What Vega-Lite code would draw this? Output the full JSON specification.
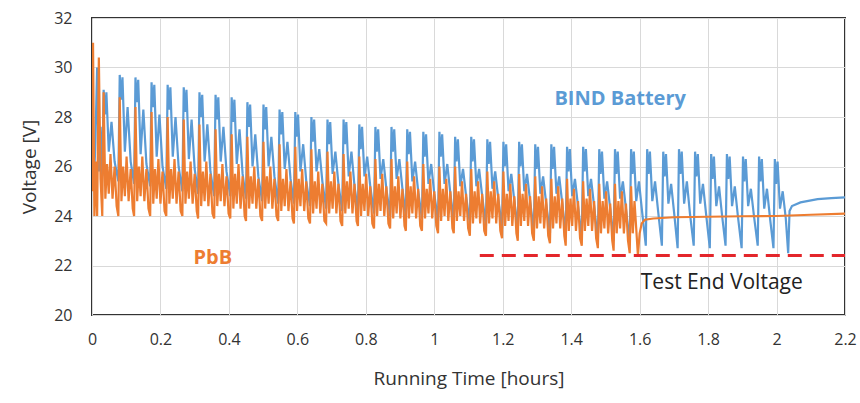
{
"$schema": "https://vega.github.io/schema/vega-lite/v6.json",
"width": 753, "height": 297,
"autosize": "none",
"padding": {"left": 92, "top": 18, "right": 15, "bottom": 88},
"background": "white",
"config": {
 "font": "Open Sans",
 "view": {"stroke": "#333333", "strokeWidth": 2},
 "axis": {"domain": false, "ticks": false, "grid": true, "gridColor": "#d9d9d9", "gridWidth": 1, "labelFontSize": 16, "titleFontSize": 19, "labelColor": "#333333", "titleColor": "#333333", "titleFontWeight": "normal", "labelFont": "Open Sans", "titleFont": "Open Sans"}
},
"datasets": {
"bind": [
{"t":0.006,"v":25.5},{"t":0.010,"v":27.0},{"t":0.015,"v":30.0},{"t":0.020,"v":25.8},{"t":0.025,"v":27.6},
{"t":0.030,"v":25.6},{"t":0.034,"v":29.1},{"t":0.038,"v":28.1},{"t":0.042,"v":29.0},{"t":0.049,"v":26.6},{"t":0.057,"v":27.8},{"t":0.066,"v":26.2},
{"t":0.077,"v":25.4},{"t":0.081,"v":29.7},{"t":0.085,"v":28.7},{"t":0.089,"v":29.6},{"t":0.096,"v":26.6},{"t":0.104,"v":28.4},{"t":0.113,"v":26.2},
{"t":0.123,"v":25.3},{"t":0.127,"v":29.6},{"t":0.131,"v":28.6},{"t":0.135,"v":29.5},{"t":0.142,"v":26.5},{"t":0.150,"v":28.3},{"t":0.159,"v":26.1},
{"t":0.170,"v":25.2},{"t":0.174,"v":29.4},{"t":0.178,"v":28.4},{"t":0.182,"v":29.3},{"t":0.189,"v":26.4},{"t":0.197,"v":28.1},{"t":0.206,"v":26.0},
{"t":0.217,"v":25.1},{"t":0.221,"v":29.3},{"t":0.225,"v":28.3},{"t":0.229,"v":29.2},{"t":0.236,"v":26.4},{"t":0.244,"v":28.0},{"t":0.253,"v":26.0},
{"t":0.264,"v":25.0},{"t":0.268,"v":29.2},{"t":0.272,"v":28.2},{"t":0.276,"v":29.1},{"t":0.283,"v":26.3},{"t":0.291,"v":27.9},{"t":0.300,"v":25.9},
{"t":0.310,"v":24.9},{"t":0.314,"v":29.0},{"t":0.318,"v":28.0},{"t":0.322,"v":28.9},{"t":0.329,"v":26.2},{"t":0.337,"v":27.7},{"t":0.346,"v":25.8},
{"t":0.357,"v":24.8},{"t":0.361,"v":28.9},{"t":0.365,"v":27.9},{"t":0.369,"v":28.8},{"t":0.376,"v":26.2},{"t":0.384,"v":27.6},{"t":0.393,"v":25.8},
{"t":0.404,"v":24.8},{"t":0.408,"v":28.8},{"t":0.412,"v":27.8},{"t":0.416,"v":28.7},{"t":0.423,"v":26.1},{"t":0.431,"v":27.5},{"t":0.440,"v":25.7},
{"t":0.450,"v":24.7},{"t":0.454,"v":28.6},{"t":0.458,"v":27.6},{"t":0.462,"v":28.5},{"t":0.469,"v":26.0},{"t":0.477,"v":27.3},{"t":0.486,"v":25.6},
{"t":0.497,"v":24.6},{"t":0.501,"v":28.5},{"t":0.505,"v":27.5},{"t":0.509,"v":28.4},{"t":0.516,"v":26.0},{"t":0.524,"v":27.2},{"t":0.533,"v":25.6},
{"t":0.544,"v":24.5},{"t":0.548,"v":28.3},{"t":0.552,"v":27.3},{"t":0.556,"v":28.2},{"t":0.563,"v":25.9},{"t":0.571,"v":27.0},{"t":0.580,"v":25.5},
{"t":0.590,"v":24.5},{"t":0.594,"v":28.2},{"t":0.598,"v":27.2},{"t":0.602,"v":28.1},{"t":0.609,"v":25.8},{"t":0.617,"v":26.9},{"t":0.626,"v":25.4},
{"t":0.637,"v":24.4},{"t":0.641,"v":28.0},{"t":0.645,"v":27.0},{"t":0.649,"v":27.9},{"t":0.656,"v":25.8},{"t":0.664,"v":26.7},{"t":0.673,"v":25.4},
{"t":0.684,"v":24.3},{"t":0.688,"v":27.9},{"t":0.692,"v":26.9},{"t":0.696,"v":27.8},{"t":0.703,"v":25.7},{"t":0.711,"v":26.6},{"t":0.720,"v":25.3},
{"t":0.731,"v":24.2},{"t":0.735,"v":27.9},{"t":0.739,"v":26.9},{"t":0.743,"v":27.8},{"t":0.750,"v":25.6},{"t":0.758,"v":26.6},{"t":0.767,"v":25.2},
{"t":0.777,"v":24.2},{"t":0.781,"v":27.7},{"t":0.785,"v":26.7},{"t":0.789,"v":27.6},{"t":0.796,"v":25.6},{"t":0.804,"v":26.4},{"t":0.813,"v":25.2},
{"t":0.824,"v":24.1},{"t":0.828,"v":27.6},{"t":0.832,"v":26.6},{"t":0.836,"v":27.5},{"t":0.843,"v":25.5},{"t":0.851,"v":26.3},{"t":0.860,"v":25.1},
{"t":0.871,"v":24.0},{"t":0.875,"v":27.6},{"t":0.879,"v":26.6},{"t":0.883,"v":27.5},{"t":0.890,"v":25.5},{"t":0.898,"v":26.3},{"t":0.907,"v":25.1},
{"t":0.917,"v":24.0},{"t":0.921,"v":27.5},{"t":0.925,"v":26.5},{"t":0.929,"v":27.4},{"t":0.936,"v":25.4},{"t":0.944,"v":26.2},{"t":0.953,"v":25.0},
{"t":0.964,"v":23.9},{"t":0.968,"v":27.4},{"t":0.972,"v":26.4},{"t":0.976,"v":27.3},{"t":0.983,"v":25.3},{"t":0.991,"v":26.1},{"t":1.000,"v":24.9},
{"t":1.011,"v":23.8},{"t":1.015,"v":27.4},{"t":1.019,"v":26.4},{"t":1.023,"v":27.3},{"t":1.030,"v":25.3},{"t":1.038,"v":26.1},{"t":1.047,"v":24.9},
{"t":1.057,"v":23.8},{"t":1.061,"v":27.2},{"t":1.065,"v":26.2},{"t":1.069,"v":27.1},{"t":1.076,"v":25.2},{"t":1.084,"v":25.9},{"t":1.093,"v":24.8},
{"t":1.104,"v":23.7},{"t":1.108,"v":27.2},{"t":1.112,"v":26.2},{"t":1.116,"v":27.1},{"t":1.123,"v":25.2},{"t":1.131,"v":25.9},{"t":1.140,"v":24.8},
{"t":1.151,"v":23.6},{"t":1.155,"v":27.1},{"t":1.159,"v":26.1},{"t":1.163,"v":27.0},{"t":1.170,"v":25.1},{"t":1.178,"v":25.8},{"t":1.187,"v":24.7},
{"t":1.198,"v":23.5},{"t":1.202,"v":27.0},{"t":1.206,"v":26.0},{"t":1.210,"v":26.9},{"t":1.217,"v":25.0},{"t":1.225,"v":25.7},{"t":1.234,"v":24.6},
{"t":1.244,"v":23.5},{"t":1.248,"v":27.0},{"t":1.252,"v":26.0},{"t":1.256,"v":26.9},{"t":1.263,"v":25.0},{"t":1.271,"v":25.7},{"t":1.280,"v":24.6},
{"t":1.291,"v":23.4},{"t":1.295,"v":26.9},{"t":1.299,"v":25.9},{"t":1.303,"v":26.8},{"t":1.310,"v":24.9},{"t":1.318,"v":25.6},{"t":1.327,"v":24.5},
{"t":1.338,"v":23.3},{"t":1.342,"v":26.9},{"t":1.346,"v":25.9},{"t":1.350,"v":26.8},{"t":1.357,"v":24.9},{"t":1.365,"v":25.6},{"t":1.374,"v":24.5},
{"t":1.384,"v":23.2},{"t":1.388,"v":26.8},{"t":1.392,"v":25.8},{"t":1.396,"v":26.7},{"t":1.403,"v":24.8},{"t":1.411,"v":25.5},{"t":1.420,"v":24.4},
{"t":1.431,"v":23.1},{"t":1.435,"v":26.8},{"t":1.439,"v":25.8},{"t":1.443,"v":26.7},{"t":1.450,"v":24.8},{"t":1.458,"v":25.5},{"t":1.467,"v":24.4},
{"t":1.478,"v":23.0},{"t":1.482,"v":26.7},{"t":1.486,"v":25.7},{"t":1.490,"v":26.6},{"t":1.497,"v":24.7},{"t":1.505,"v":25.4},{"t":1.514,"v":24.3},
{"t":1.524,"v":23.0},{"t":1.528,"v":26.7},{"t":1.532,"v":25.7},{"t":1.536,"v":26.6},{"t":1.543,"v":24.7},{"t":1.551,"v":25.4},{"t":1.560,"v":24.3},
{"t":1.571,"v":22.9},{"t":1.575,"v":26.7},{"t":1.579,"v":25.7},{"t":1.583,"v":26.6},{"t":1.590,"v":24.6},{"t":1.598,"v":25.4},{"t":1.607,"v":24.2},
{"t":1.618,"v":22.8},{"t":1.622,"v":26.7},{"t":1.626,"v":25.7},{"t":1.630,"v":26.6},{"t":1.637,"v":24.6},{"t":1.645,"v":25.4},{"t":1.654,"v":24.2},
{"t":1.665,"v":22.8},{"t":1.669,"v":26.6},{"t":1.673,"v":25.6},{"t":1.677,"v":26.5},{"t":1.684,"v":24.5},{"t":1.692,"v":25.3},{"t":1.701,"v":24.1},
{"t":1.711,"v":22.7},{"t":1.715,"v":26.7},{"t":1.719,"v":25.7},{"t":1.723,"v":26.6},{"t":1.730,"v":24.5},{"t":1.738,"v":25.4},{"t":1.747,"v":24.1},
{"t":1.758,"v":22.8},{"t":1.762,"v":26.6},{"t":1.766,"v":25.6},{"t":1.770,"v":26.5},{"t":1.777,"v":24.5},{"t":1.785,"v":25.3},{"t":1.794,"v":24.1},
{"t":1.805,"v":22.7},{"t":1.809,"v":26.5},{"t":1.813,"v":25.5},{"t":1.817,"v":26.4},{"t":1.824,"v":24.4},{"t":1.832,"v":25.2},{"t":1.841,"v":24.0},
{"t":1.851,"v":22.8},{"t":1.855,"v":26.5},{"t":1.859,"v":25.5},{"t":1.863,"v":26.4},{"t":1.870,"v":24.4},{"t":1.878,"v":25.2},{"t":1.887,"v":24.0},
{"t":1.898,"v":22.7},{"t":1.902,"v":26.4},{"t":1.906,"v":25.4},{"t":1.910,"v":26.3},{"t":1.917,"v":24.4},{"t":1.925,"v":25.1},{"t":1.934,"v":24.0},
{"t":1.945,"v":22.8},{"t":1.949,"v":26.4},{"t":1.953,"v":25.4},{"t":1.957,"v":26.3},{"t":1.964,"v":24.3},{"t":1.972,"v":25.1},{"t":1.981,"v":23.9},
{"t":1.991,"v":22.7},{"t":1.995,"v":26.3},{"t":1.999,"v":25.3},{"t":2.003,"v":26.2},{"t":2.010,"v":24.3},{"t":2.018,"v":25.0},{"t":2.027,"v":23.9},
{"t":2.034,"v":22.5},{"t":2.038,"v":24.2},{"t":2.045,"v":24.4},{"t":2.07,"v":24.55},{"t":2.12,"v":24.68},{"t":2.16,"v":24.72},{"t":2.2,"v":24.75}
],
"pbb": [
{"t":0.000,"v":25.0},{"t":0.003,"v":31.0},{"t":0.007,"v":24.0},{"t":0.011,"v":26.2},{"t":0.015,"v":24.0},{"t":0.020,"v":30.4},{"t":0.025,"v":25.5},
{"t":0.030,"v":24.0},{"t":0.034,"v":29.0},{"t":0.039,"v":24.7},{"t":0.044,"v":26.1},{"t":0.049,"v":24.9},{"t":0.054,"v":26.5},{"t":0.060,"v":24.7},{"t":0.066,"v":26.0},{"t":0.072,"v":24.4},
{"t":0.077,"v":24.0},{"t":0.081,"v":28.8},{"t":0.086,"v":24.6},{"t":0.091,"v":26.0},{"t":0.096,"v":24.8},{"t":0.101,"v":26.4},{"t":0.107,"v":24.6},{"t":0.113,"v":25.9},{"t":0.119,"v":24.3},
{"t":0.123,"v":24.0},{"t":0.127,"v":28.4},{"t":0.132,"v":24.6},{"t":0.137,"v":26.0},{"t":0.142,"v":24.8},{"t":0.147,"v":26.4},{"t":0.153,"v":24.6},{"t":0.159,"v":25.9},{"t":0.165,"v":24.3},
{"t":0.170,"v":24.0},{"t":0.174,"v":28.2},{"t":0.179,"v":24.5},{"t":0.184,"v":25.9},{"t":0.189,"v":24.7},{"t":0.194,"v":26.3},{"t":0.200,"v":24.5},{"t":0.206,"v":25.8},{"t":0.212,"v":24.2},
{"t":0.217,"v":24.0},{"t":0.221,"v":28.0},{"t":0.226,"v":24.5},{"t":0.231,"v":25.9},{"t":0.236,"v":24.7},{"t":0.241,"v":26.3},{"t":0.247,"v":24.5},{"t":0.253,"v":25.8},{"t":0.259,"v":24.2},
{"t":0.264,"v":24.0},{"t":0.268,"v":27.9},{"t":0.273,"v":24.5},{"t":0.278,"v":25.8},{"t":0.283,"v":24.7},{"t":0.288,"v":26.2},{"t":0.294,"v":24.5},{"t":0.300,"v":25.7},{"t":0.306,"v":24.2},
{"t":0.310,"v":23.9},{"t":0.314,"v":27.7},{"t":0.319,"v":24.4},{"t":0.324,"v":25.8},{"t":0.329,"v":24.6},{"t":0.334,"v":26.2},{"t":0.340,"v":24.4},{"t":0.346,"v":25.7},{"t":0.352,"v":24.1},
{"t":0.357,"v":23.9},{"t":0.361,"v":27.5},{"t":0.366,"v":24.4},{"t":0.371,"v":25.7},{"t":0.376,"v":24.6},{"t":0.381,"v":26.1},{"t":0.387,"v":24.4},{"t":0.393,"v":25.6},{"t":0.399,"v":24.1},
{"t":0.404,"v":23.9},{"t":0.408,"v":27.3},{"t":0.413,"v":24.3},{"t":0.418,"v":25.7},{"t":0.423,"v":24.5},{"t":0.428,"v":26.1},{"t":0.434,"v":24.3},{"t":0.440,"v":25.6},{"t":0.446,"v":24.0},
{"t":0.450,"v":23.8},{"t":0.454,"v":27.2},{"t":0.459,"v":24.3},{"t":0.464,"v":25.6},{"t":0.469,"v":24.5},{"t":0.474,"v":26.0},{"t":0.480,"v":24.3},{"t":0.486,"v":25.5},{"t":0.492,"v":24.0},
{"t":0.497,"v":23.8},{"t":0.501,"v":27.0},{"t":0.506,"v":24.3},{"t":0.511,"v":25.6},{"t":0.516,"v":24.5},{"t":0.521,"v":26.0},{"t":0.527,"v":24.3},{"t":0.533,"v":25.5},{"t":0.539,"v":24.0},
{"t":0.544,"v":23.8},{"t":0.548,"v":26.9},{"t":0.553,"v":24.2},{"t":0.558,"v":25.5},{"t":0.563,"v":24.4},{"t":0.568,"v":25.9},{"t":0.574,"v":24.2},{"t":0.580,"v":25.4},{"t":0.586,"v":23.9},
{"t":0.590,"v":23.7},{"t":0.594,"v":26.8},{"t":0.599,"v":24.2},{"t":0.604,"v":25.5},{"t":0.609,"v":24.4},{"t":0.614,"v":25.9},{"t":0.620,"v":24.2},{"t":0.626,"v":25.4},{"t":0.632,"v":23.9},
{"t":0.637,"v":23.7},{"t":0.641,"v":26.7},{"t":0.646,"v":24.1},{"t":0.651,"v":25.4},{"t":0.656,"v":24.3},{"t":0.661,"v":25.8},{"t":0.667,"v":24.1},{"t":0.673,"v":25.3},{"t":0.679,"v":23.8},
{"t":0.684,"v":23.7},{"t":0.688,"v":26.6},{"t":0.693,"v":24.1},{"t":0.698,"v":25.4},{"t":0.703,"v":24.3},{"t":0.708,"v":25.8},{"t":0.714,"v":24.1},{"t":0.720,"v":25.3},{"t":0.726,"v":23.8},
{"t":0.731,"v":23.6},{"t":0.735,"v":26.5},{"t":0.740,"v":24.1},{"t":0.745,"v":25.4},{"t":0.750,"v":24.3},{"t":0.755,"v":25.8},{"t":0.761,"v":24.1},{"t":0.767,"v":25.3},{"t":0.773,"v":23.8},
{"t":0.777,"v":23.6},{"t":0.781,"v":26.4},{"t":0.786,"v":24.0},{"t":0.791,"v":25.3},{"t":0.796,"v":24.2},{"t":0.801,"v":25.7},{"t":0.807,"v":24.0},{"t":0.813,"v":25.2},{"t":0.819,"v":23.7},
{"t":0.824,"v":23.5},{"t":0.828,"v":26.3},{"t":0.833,"v":24.0},{"t":0.838,"v":25.3},{"t":0.843,"v":24.2},{"t":0.848,"v":25.7},{"t":0.854,"v":24.0},{"t":0.860,"v":25.2},{"t":0.866,"v":23.7},
{"t":0.871,"v":23.5},{"t":0.875,"v":26.3},{"t":0.880,"v":23.9},{"t":0.885,"v":25.2},{"t":0.890,"v":24.1},{"t":0.895,"v":25.6},{"t":0.901,"v":23.9},{"t":0.907,"v":25.1},{"t":0.913,"v":23.6},
{"t":0.917,"v":23.4},{"t":0.921,"v":26.2},{"t":0.926,"v":23.9},{"t":0.931,"v":25.2},{"t":0.936,"v":24.1},{"t":0.941,"v":25.6},{"t":0.947,"v":23.9},{"t":0.953,"v":25.1},{"t":0.959,"v":23.6},
{"t":0.964,"v":23.4},{"t":0.968,"v":26.1},{"t":0.973,"v":23.9},{"t":0.978,"v":25.1},{"t":0.983,"v":24.1},{"t":0.988,"v":25.5},{"t":0.994,"v":23.9},{"t":1.000,"v":25.0},{"t":1.006,"v":23.6},
{"t":1.011,"v":23.3},{"t":1.015,"v":26.0},{"t":1.020,"v":23.8},{"t":1.025,"v":25.1},{"t":1.030,"v":24.0},{"t":1.035,"v":25.5},{"t":1.041,"v":23.8},{"t":1.047,"v":25.0},{"t":1.053,"v":23.5},
{"t":1.057,"v":23.3},{"t":1.061,"v":26.0},{"t":1.066,"v":23.8},{"t":1.071,"v":25.0},{"t":1.076,"v":24.0},{"t":1.081,"v":25.4},{"t":1.087,"v":23.8},{"t":1.093,"v":24.9},{"t":1.099,"v":23.5},
{"t":1.104,"v":23.2},{"t":1.108,"v":25.9},{"t":1.113,"v":23.7},{"t":1.118,"v":25.0},{"t":1.123,"v":23.9},{"t":1.128,"v":25.4},{"t":1.134,"v":23.7},{"t":1.140,"v":24.9},{"t":1.146,"v":23.4},
{"t":1.151,"v":23.2},{"t":1.155,"v":25.8},{"t":1.160,"v":23.7},{"t":1.165,"v":25.0},{"t":1.170,"v":23.9},{"t":1.175,"v":25.4},{"t":1.181,"v":23.7},{"t":1.187,"v":24.9},{"t":1.193,"v":23.4},
{"t":1.198,"v":23.1},{"t":1.202,"v":25.8},{"t":1.207,"v":23.6},{"t":1.212,"v":24.9},{"t":1.217,"v":23.8},{"t":1.222,"v":25.3},{"t":1.228,"v":23.6},{"t":1.234,"v":24.8},{"t":1.240,"v":23.3},
{"t":1.244,"v":23.0},{"t":1.248,"v":25.7},{"t":1.253,"v":23.6},{"t":1.258,"v":24.9},{"t":1.263,"v":23.8},{"t":1.268,"v":25.3},{"t":1.274,"v":23.6},{"t":1.280,"v":24.8},{"t":1.286,"v":23.3},
{"t":1.291,"v":23.0},{"t":1.295,"v":25.6},{"t":1.300,"v":23.5},{"t":1.305,"v":24.8},{"t":1.310,"v":23.7},{"t":1.315,"v":25.2},{"t":1.321,"v":23.5},{"t":1.327,"v":24.7},{"t":1.333,"v":23.2},
{"t":1.338,"v":22.9},{"t":1.342,"v":25.5},{"t":1.347,"v":23.5},{"t":1.352,"v":24.8},{"t":1.357,"v":23.7},{"t":1.362,"v":25.2},{"t":1.368,"v":23.5},{"t":1.374,"v":24.7},{"t":1.380,"v":23.2},
{"t":1.384,"v":22.8},{"t":1.388,"v":25.5},{"t":1.393,"v":23.4},{"t":1.398,"v":24.7},{"t":1.403,"v":23.6},{"t":1.408,"v":25.1},{"t":1.414,"v":23.4},{"t":1.420,"v":24.6},{"t":1.426,"v":23.1},
{"t":1.431,"v":22.8},{"t":1.435,"v":25.4},{"t":1.440,"v":23.4},{"t":1.445,"v":24.7},{"t":1.450,"v":23.6},{"t":1.455,"v":25.1},{"t":1.461,"v":23.4},{"t":1.467,"v":24.6},{"t":1.473,"v":23.1},
{"t":1.478,"v":22.7},{"t":1.482,"v":25.3},{"t":1.487,"v":23.3},{"t":1.492,"v":24.6},{"t":1.497,"v":23.5},{"t":1.502,"v":25.0},{"t":1.508,"v":23.3},{"t":1.514,"v":24.5},{"t":1.520,"v":23.0},
{"t":1.524,"v":22.6},{"t":1.528,"v":25.3},{"t":1.533,"v":23.3},{"t":1.538,"v":24.6},{"t":1.543,"v":23.5},{"t":1.548,"v":25.0},{"t":1.554,"v":23.3},{"t":1.560,"v":24.5},{"t":1.566,"v":23.0},
{"t":1.571,"v":22.5},{"t":1.575,"v":25.2},{"t":1.580,"v":23.3},{"t":1.585,"v":24.6},{"t":1.590,"v":23.5},{"t":1.595,"v":22.4},
{"t":1.600,"v":23.3},{"t":1.606,"v":23.7},{"t":1.615,"v":23.85},{"t":1.64,"v":23.9},{"t":1.7,"v":23.95},{"t":1.8,"v":23.97},{"t":1.9,"v":23.99},{"t":2.0,"v":24.0},{"t":2.1,"v":24.05},{"t":2.2,"v":24.1}
],
"endv": [{"t":1.133,"v":22.4},{"t":2.2,"v":22.4}],
"lblBind": [{"t":1.543,"v":28.73,"label":"BIND Battery"}],
"lblPbb": [{"t":0.353,"v":22.3,"label":"PbB"}],
"lblEnd": [{"t":1.84,"v":21.29,"label":"Test End Voltage"}]
},
"encoding": {
 "x": {"field": "t", "type": "quantitative", "scale": {"domain": [0, 2.2], "nice": false, "zero": false},
  "axis": {"title": "Running Time [hours]", "values": [0,0.2,0.4,0.6,0.8,1,1.2,1.4,1.6,1.8,2,2.2], "format": "~g", "labelPadding": 16, "titlePadding": 22, "labelFlush": false}},
 "y": {"field": "v", "type": "quantitative", "scale": {"domain": [20, 32], "nice": false, "zero": false},
  "axis": {"title": "Voltage [V]", "values": [20,22,24,26,28,30,32], "format": "d", "labelPadding": 20, "titlePadding": 14}}
},
"layer": [
 {"data": {"name": "bind"}, "mark": {"type": "line", "color": "#5b9bd5", "strokeWidth": 2.2, "clip": true}},
 {"data": {"name": "pbb"}, "mark": {"type": "line", "color": "#ed7d31", "strokeWidth": 2.2, "clip": true}},
 {"data": {"name": "endv"}, "mark": {"type": "line", "color": "#e3262b", "strokeWidth": 3, "strokeDash": [14, 8]}},
 {"data": {"name": "lblBind"}, "mark": {"type": "text", "color": "#5b9bd5", "fontSize": 20, "fontWeight": "bold", "align": "center", "baseline": "middle"}, "encoding": {"text": {"field": "label"}}},
 {"data": {"name": "lblPbb"}, "mark": {"type": "text", "color": "#ed7d31", "fontSize": 20, "fontWeight": "bold", "align": "center", "baseline": "middle"}, "encoding": {"text": {"field": "label"}}},
 {"data": {"name": "lblEnd"}, "mark": {"type": "text", "color": "#222222", "fontSize": 21, "align": "center", "baseline": "middle"}, "encoding": {"text": {"field": "label"}}}
]
}
